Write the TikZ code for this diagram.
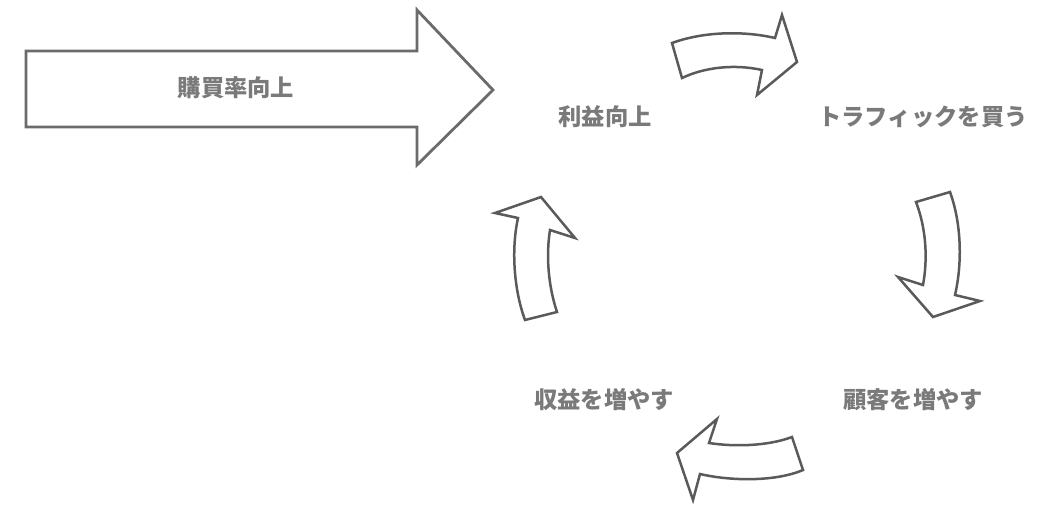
\documentclass[tikz,border=0pt]{standalone}
\usepackage{fontspec}
\newfontfamily\jpfont{Noto Sans CJK JP}
\definecolor{linegray}{HTML}{5A5A5A}
\definecolor{textgray}{HTML}{7A7A7A}
\tikzset{
  steptext/.style={font=\jpfont\bfseries\fontsize{23.3}{27}\selectfont, text=textgray, inner sep=0pt},
  bentarrow/.style={draw=linegray, line width=2.5pt, line join=miter, fill=white}
}
\begin{document}
\begin{tikzpicture}[x=1pt, y=-1pt]
    \useasboundingbox[fill=white] (0, 0) rectangle (1058, 528);

    % Big arrow
    \draw[draw=linegray!90, line width=2.8pt, fill=white] (26, 51) -- (417, 51) -- (417, 10) -- (493, 90) -- (417, 165) -- (417, 127) -- (26, 127) -- cycle;
    \node[steptext] (rate) at (236, 88) {購買率向上};

    % Cycle labels
    \node[steptext] (profit) at (605, 117) {利益向上};
    \node[steptext] (traffic) at (923, 117) {トラフィックを買う};
    \node[steptext] (customer) at (913, 400) {顧客を増やす};
    \node[steptext] (revenue) at (604, 400) {収益を増やす};

    % Top bent arrow
    \draw[bentarrow] (672, 43) .. controls (705, 31) and (745, 31) .. (775, 38) -- (782, 15) -- (797, 62) -- (757, 95) -- (762, 70) .. controls (735, 64) and (705, 67) .. (682, 78) -- cycle;

    % Right bent arrow
    \draw[bentarrow] (916, 202) -- (950, 192) .. controls (962, 225) and (962, 265) .. (955, 295) -- (980, 301) -- (933, 317) -- (898, 277) -- (923, 285) .. controls (928, 258) and (926, 228) .. (916, 202) -- cycle;

    % Bottom bent arrow
    \draw[bentarrow] (792, 437) .. controls (768, 446) and (735, 447) .. (709, 443) -- (717, 419) -- (677, 453) -- (693, 500) -- (700, 474) .. controls (730, 481) and (775, 482) .. (803, 470) -- cycle;

    % Left bent arrow
    \draw[bentarrow] (525, 320) -- (557, 312) .. controls (548, 285) and (546, 255) .. (550, 230) -- (575, 238) -- (541, 197) -- (495, 213) -- (518, 218) .. controls (511, 250) and (514, 290) .. (525, 320) -- cycle;
\end{tikzpicture}
\end{document}
